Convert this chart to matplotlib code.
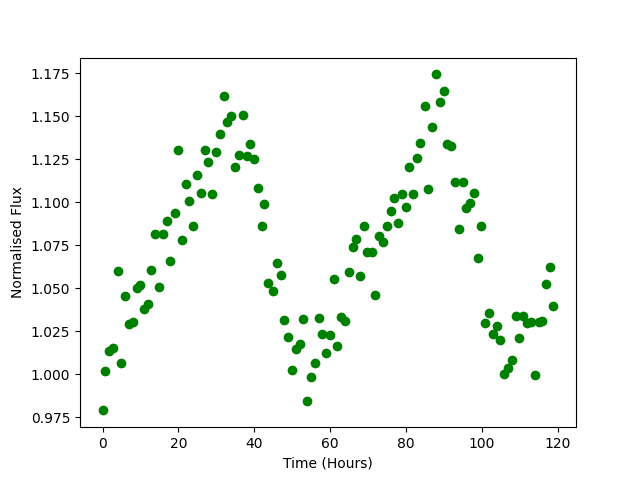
import matplotlib
matplotlib.use("Agg")
import matplotlib.pyplot as plt

time_hours = [0.0, 0.7, 1.8, 2.8, 4.0, 4.8, 5.8, 6.9, 7.9, 9.0,
              9.8, 10.8, 11.9, 12.9, 13.9, 14.8, 15.9, 16.9, 17.9, 19.0,
              19.8, 20.9, 21.9, 22.9, 23.8, 24.8, 25.9, 26.9, 27.9, 28.8,
              29.9, 30.9, 32.0, 32.9, 33.8, 34.8, 35.9, 37.0, 38.0, 38.8,
              39.9, 41.0, 42.0, 42.7, 43.7, 44.9, 46.0, 47.0, 47.8, 48.9,
              49.9, 51.0, 52.0, 52.9, 53.9, 55.0, 56.0, 57.1, 57.9, 58.9,
              60.0, 61.0, 61.8, 62.9, 63.9, 65.0, 66.0, 66.8, 67.9, 69.0,
              69.8, 71.1, 71.9, 72.9, 74.0, 75.0, 76.1, 76.9, 77.9, 79.0,
              80.0, 80.9, 81.9, 82.8, 83.8, 85.1, 85.9, 86.9, 88.0, 89.0,
              90.1, 90.9, 91.9, 93.0, 94.0, 95.1, 95.9, 97.0, 98.0, 99.1,
              99.9, 100.9, 102.0, 103.0, 104.1, 104.9, 105.9, 107.0, 108.1, 109.1,
              109.9, 111.0, 112.0, 113.1, 114.1, 115.2, 116.0, 117.0, 118.1, 118.9]

flux = [0.979, 1.002, 1.0136, 1.015, 1.060, 1.0066, 1.0455, 1.029, 1.0303, 1.050,
        1.0517, 1.038, 1.0407, 1.0606, 1.0815, 1.0506, 1.0815, 1.0889, 1.0659, 1.0937,
        1.1303, 1.078, 1.1106, 1.1007, 1.0862, 1.1158, 1.1053, 1.1303, 1.1233, 1.1048,
        1.1291, 1.1396, 1.1617, 1.147, 1.150, 1.1204, 1.1274, 1.1506, 1.1268, 1.1338,
        1.1251, 1.1082, 1.0862, 1.099, 1.0531, 1.0484, 1.0647, 1.0577, 1.0316, 1.0217,
        1.0026, 1.0148, 1.0177, 1.0322, 0.9846, 0.9985, 1.0066, 1.0328, 1.0235, 1.0125,
        1.0229, 1.0554, 1.0165, 1.0333, 1.0309, 1.0595, 1.0738, 1.0786, 1.0571, 1.0862,
        1.0711, 1.0711, 1.0461, 1.0804, 1.0769, 1.0862, 1.0949, 1.1024, 1.0879, 1.1048,
        1.0972, 1.1204, 1.1048, 1.1257, 1.1344, 1.1558, 1.1077, 1.1437, 1.1744, 1.1582,
        1.1646, 1.1338, 1.1326, 1.1117, 1.0844, 1.1117, 1.0966, 1.0995, 1.1053, 1.0676,
        1.0862, 1.0299, 1.0357, 1.0235, 1.0281, 1.0200, 1.0003, 1.0037, 1.0084, 1.0339,
        1.0212, 1.0339, 1.0297, 1.0304, 0.9997, 1.0304, 1.0310, 1.0525, 1.0624, 1.0397]

fig, ax = plt.subplots(figsize=(6.4, 4.8), dpi=100)
ax.plot(time_hours, flux, 'go')
ax.set_xlabel("Time (Hours)")
ax.set_ylabel("Normalised Flux")
fig.savefig("out.png")
